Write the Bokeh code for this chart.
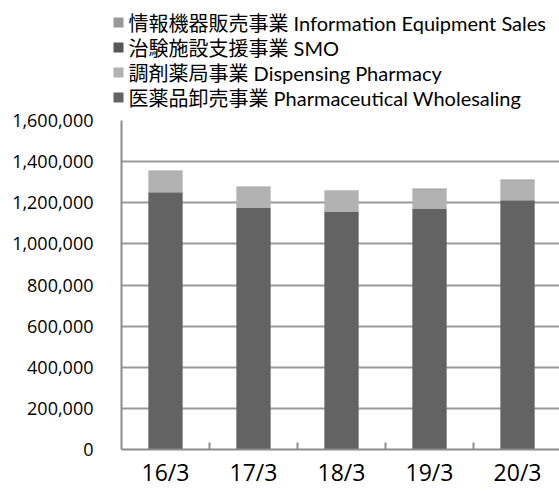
from bokeh.plotting import figure
from bokeh.layouts import column
from bokeh.core.properties import value
from bokeh.models import (ColumnDataSource, FixedTicker, NumeralTickFormatter, Range1d)
from bokeh.embed import file_html
from bokeh.resources import INLINE

categories = ["16/3", "17/3", "18/3", "19/3", "20/3"]
wholesale = [1251000, 1177000, 1157000, 1172000, 1212000]
dispensing = [103000, 99000, 100000, 94000, 98000]
smo = [1000, 1000, 1000, 1000, 1000]
info = [2000, 2000, 2000, 2000, 2000]

series_keys = ["wholesale", "dispensing", "smo", "info"]
series_labels = ["医薬品卸売事業 Pharmaceutical Wholesaling",
                 "調剤薬局事業 Dispensing Pharmacy",
                 "治験施設支援事業 SMO",
                 "情報機器販売事業 Information Equipment Sales"]
series_colors = ["#636363", "#b2b2b2", "#575757", "#999999"]
y_ticks = list(range(0, 1600001, 200000))

xs = [i + 0.5 for i in range(len(categories))]
src = ColumnDataSource(dict(x=xs, wholesale=wholesale, dispensing=dispensing,
                            smo=smo, info=info))

# ---- legend strip (drawn in its own small figure, pixel-like coordinates) ----
LG_H = 109
lg = figure(width=559, height=LG_H, output_backend="svg", toolbar_location=None,
            x_axis_type=None, y_axis_type=None,
            x_range=Range1d(0, 559), y_range=Range1d(LG_H, 0),
            min_border=0, frame_align=False)
lg.outline_line_color = None
lg.grid.visible = False
order = list(reversed(range(len(series_keys))))  # top of stack first
row_y = [22 + 25 * k for k in range(len(order))]
leg_src = ColumnDataSource(dict(
    y=row_y,
    label=[series_labels[i] for i in order],
    color=[series_colors[i] for i in order],
))
lg.rect(x=118, y="y", width=10, height=10, width_units="screen",
        height_units="screen", color="color", line_color=None, source=leg_src)
lg.text(x=128, y="y", text="label", source=leg_src,
        text_font=value("Lato, 'Noto Sans CJK JP'"), text_font_size="20px",
        text_baseline="middle", text_align="left", text_color="#000000")

# ---- chart ----
p = figure(width=559, height=493 - LG_H, output_backend="svg", toolbar_location=None,
           x_range=Range1d(0, 4.977), y_range=Range1d(0, 1600000),
           min_border_left=121, min_border_right=0, min_border_top=120 - LG_H,
           min_border_bottom=44, frame_align=False)
p.outline_line_color = None

p.vbar_stack(series_keys, x="x", width=0.39, source=src,
             color=series_colors, line_color=None)

p.yaxis.ticker = FixedTicker(ticks=y_ticks)
p.yaxis.formatter = NumeralTickFormatter(format="0,0")
p.yaxis.major_label_text_font = "Open Sans"
p.yaxis.major_label_text_font_size = "18px"
p.yaxis.major_label_text_color = "#000000"
p.yaxis.major_label_standoff = 22
p.yaxis.major_tick_line_color = None
p.yaxis.minor_tick_line_color = None
p.yaxis.axis_line_color = "#8c8c8c"
p.yaxis.axis_line_width = 2

p.xaxis.ticker = FixedTicker(ticks=xs, minor_ticks=[i for i in range(1, len(categories))])
p.xaxis.major_label_overrides = {x: c for x, c in zip(xs, categories)}
p.xaxis.major_label_text_font = "Open Sans"
p.xaxis.major_label_text_font_size = "23px"
p.xaxis.major_label_text_color = "#000000"
p.xaxis.major_label_standoff = 0
p.xaxis.major_tick_line_color = None
p.xaxis.minor_tick_in = 7
p.xaxis.minor_tick_out = 0
p.xaxis.minor_tick_line_color = "#8c8c8c"
p.xaxis.minor_tick_line_width = 2
p.xaxis.axis_line_color = "#8c8c8c"
p.xaxis.axis_line_width = 2

p.xgrid.grid_line_color = None
p.ygrid.grid_line_color = "#9a9a9a"
p.ygrid.grid_line_width = 2

layout = column(lg, p, spacing=0)
open("out.html", "w").write(file_html(layout, INLINE))
